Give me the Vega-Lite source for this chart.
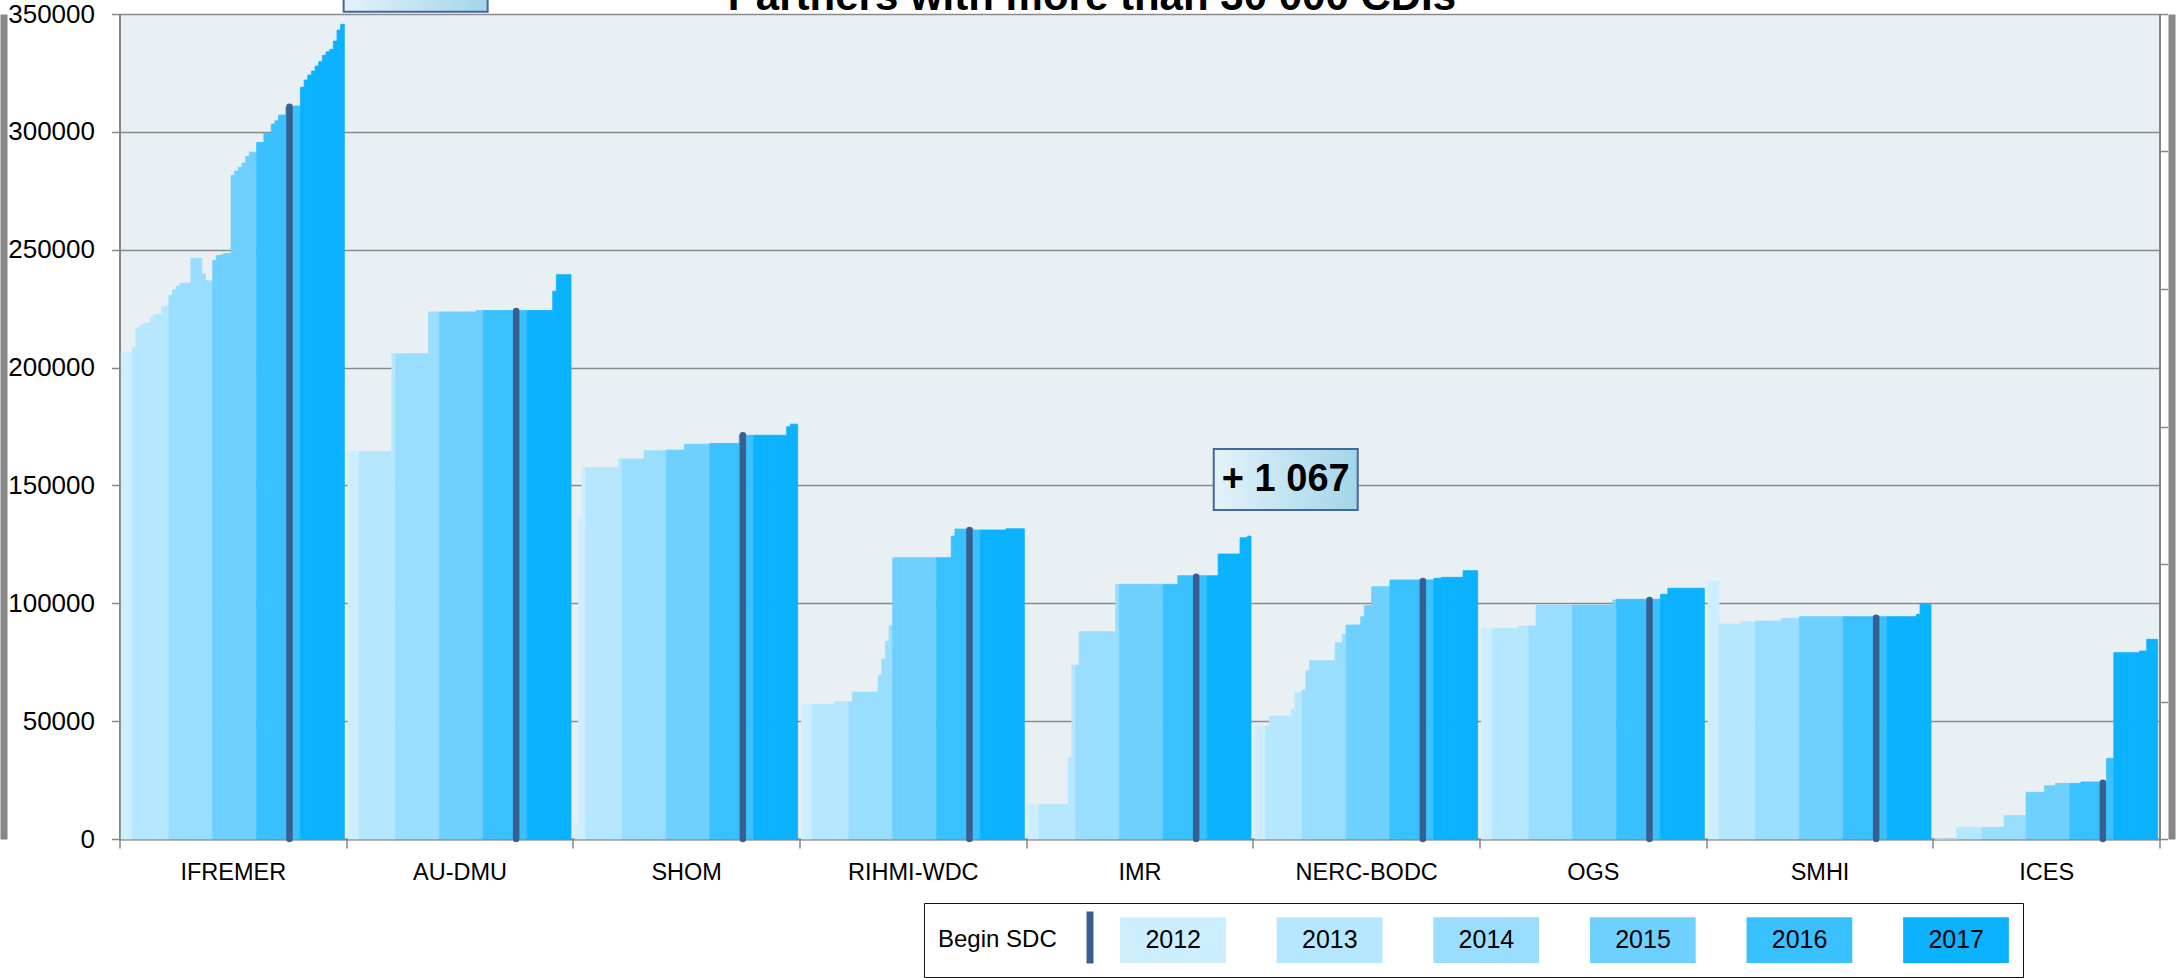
{
  "$schema": "https://vega.github.io/schema/vega-lite/v6.json",
  "width": 2040,
  "height": 825,
  "autosize": {"type": "none"},
  "padding": {"left": 119.5, "top": 14, "right": 19.5, "bottom": 139},
  "background": "#ffffff",
  "config": {
    "view": {"fill": "#E8F0F4", "stroke": null},
    "font": "Liberation Sans"
  },
  "datasets": {
    "bars": [
      {"p":"IFREMER","m":0,"yr":"2012","v":206500},{"p":"IFREMER","m":1,"yr":"2012","v":206500},{"p":"IFREMER","m":2,"yr":"2012","v":206500},
      {"p":"IFREMER","m":3,"yr":"2013","v":208700},{"p":"IFREMER","m":4,"yr":"2013","v":216800},{"p":"IFREMER","m":5,"yr":"2013","v":218000},{"p":"IFREMER","m":6,"yr":"2013","v":218600},{"p":"IFREMER","m":7,"yr":"2013","v":219000},{"p":"IFREMER","m":8,"yr":"2013","v":221400},{"p":"IFREMER","m":9,"yr":"2013","v":222500},{"p":"IFREMER","m":10,"yr":"2013","v":222500},{"p":"IFREMER","m":11,"yr":"2013","v":226000},{"p":"IFREMER","m":12,"yr":"2013","v":226000},
      {"p":"IFREMER","m":13,"yr":"2014","v":230600},{"p":"IFREMER","m":14,"yr":"2014","v":232900},{"p":"IFREMER","m":15,"yr":"2014","v":234500},{"p":"IFREMER","m":16,"yr":"2014","v":235800},{"p":"IFREMER","m":17,"yr":"2014","v":235800},{"p":"IFREMER","m":18,"yr":"2014","v":235800},{"p":"IFREMER","m":19,"yr":"2014","v":246400},{"p":"IFREMER","m":20,"yr":"2014","v":246400},{"p":"IFREMER","m":21,"yr":"2014","v":246400},{"p":"IFREMER","m":22,"yr":"2014","v":239800},{"p":"IFREMER","m":23,"yr":"2014","v":236800},{"p":"IFREMER","m":24,"yr":"2014","v":236800},
      {"p":"IFREMER","m":25,"yr":"2015","v":245500},{"p":"IFREMER","m":26,"yr":"2015","v":247500},{"p":"IFREMER","m":27,"yr":"2015","v":247800},{"p":"IFREMER","m":28,"yr":"2015","v":248400},{"p":"IFREMER","m":29,"yr":"2015","v":248400},{"p":"IFREMER","m":30,"yr":"2015","v":281600},{"p":"IFREMER","m":31,"yr":"2015","v":283400},{"p":"IFREMER","m":32,"yr":"2015","v":285000},{"p":"IFREMER","m":33,"yr":"2015","v":286800},{"p":"IFREMER","m":34,"yr":"2015","v":289600},{"p":"IFREMER","m":35,"yr":"2015","v":291400},{"p":"IFREMER","m":36,"yr":"2015","v":291400},
      {"p":"IFREMER","m":37,"yr":"2016","v":295500},{"p":"IFREMER","m":38,"yr":"2016","v":295500},{"p":"IFREMER","m":39,"yr":"2016","v":299400},{"p":"IFREMER","m":40,"yr":"2016","v":299400},{"p":"IFREMER","m":41,"yr":"2016","v":303300},{"p":"IFREMER","m":42,"yr":"2016","v":304700},{"p":"IFREMER","m":43,"yr":"2016","v":307100},{"p":"IFREMER","m":44,"yr":"2016","v":307100},{"p":"IFREMER","m":45,"yr":"2016","v":310600},{"p":"IFREMER","m":46,"yr":"2016","v":310600},{"p":"IFREMER","m":47,"yr":"2016","v":311000},{"p":"IFREMER","m":48,"yr":"2016","v":311000},
      {"p":"IFREMER","m":49,"yr":"2017","v":318900},{"p":"IFREMER","m":50,"yr":"2017","v":322000},{"p":"IFREMER","m":51,"yr":"2017","v":324100},{"p":"IFREMER","m":52,"yr":"2017","v":325800},{"p":"IFREMER","m":53,"yr":"2017","v":327900},{"p":"IFREMER","m":54,"yr":"2017","v":329800},{"p":"IFREMER","m":55,"yr":"2017","v":332500},{"p":"IFREMER","m":56,"yr":"2017","v":334000},{"p":"IFREMER","m":57,"yr":"2017","v":335000},{"p":"IFREMER","m":58,"yr":"2017","v":338500},{"p":"IFREMER","m":59,"yr":"2017","v":343200},{"p":"IFREMER","m":60,"yr":"2017","v":345600},

      {"p":"AU-DMU","m":0,"yr":"2012","v":164400},{"p":"AU-DMU","m":1,"yr":"2012","v":164400},{"p":"AU-DMU","m":2,"yr":"2012","v":164400},
      {"p":"AU-DMU","m":3,"yr":"2013","v":164400},{"p":"AU-DMU","m":4,"yr":"2013","v":164400},{"p":"AU-DMU","m":5,"yr":"2013","v":164400},{"p":"AU-DMU","m":6,"yr":"2013","v":164400},{"p":"AU-DMU","m":7,"yr":"2013","v":164400},{"p":"AU-DMU","m":8,"yr":"2013","v":164400},{"p":"AU-DMU","m":9,"yr":"2013","v":164400},{"p":"AU-DMU","m":10,"yr":"2013","v":164400},{"p":"AU-DMU","m":11,"yr":"2013","v":164400},{"p":"AU-DMU","m":12,"yr":"2013","v":205900},
      {"p":"AU-DMU","m":13,"yr":"2014","v":205900},{"p":"AU-DMU","m":14,"yr":"2014","v":205900},{"p":"AU-DMU","m":15,"yr":"2014","v":205900},{"p":"AU-DMU","m":16,"yr":"2014","v":205900},{"p":"AU-DMU","m":17,"yr":"2014","v":205900},{"p":"AU-DMU","m":18,"yr":"2014","v":205900},{"p":"AU-DMU","m":19,"yr":"2014","v":205900},{"p":"AU-DMU","m":20,"yr":"2014","v":205900},{"p":"AU-DMU","m":21,"yr":"2014","v":205900},{"p":"AU-DMU","m":22,"yr":"2014","v":223600},{"p":"AU-DMU","m":23,"yr":"2014","v":223600},{"p":"AU-DMU","m":24,"yr":"2014","v":223600},
      {"p":"AU-DMU","m":25,"yr":"2015","v":223600},{"p":"AU-DMU","m":26,"yr":"2015","v":223600},{"p":"AU-DMU","m":27,"yr":"2015","v":223600},{"p":"AU-DMU","m":28,"yr":"2015","v":223600},{"p":"AU-DMU","m":29,"yr":"2015","v":223600},{"p":"AU-DMU","m":30,"yr":"2015","v":223600},{"p":"AU-DMU","m":31,"yr":"2015","v":223600},{"p":"AU-DMU","m":32,"yr":"2015","v":223600},{"p":"AU-DMU","m":33,"yr":"2015","v":223600},{"p":"AU-DMU","m":34,"yr":"2015","v":223600},{"p":"AU-DMU","m":35,"yr":"2015","v":224200},{"p":"AU-DMU","m":36,"yr":"2015","v":224200},
      {"p":"AU-DMU","m":37,"yr":"2016","v":224200},{"p":"AU-DMU","m":38,"yr":"2016","v":224200},{"p":"AU-DMU","m":39,"yr":"2016","v":224200},{"p":"AU-DMU","m":40,"yr":"2016","v":224200},{"p":"AU-DMU","m":41,"yr":"2016","v":224200},{"p":"AU-DMU","m":42,"yr":"2016","v":224200},{"p":"AU-DMU","m":43,"yr":"2016","v":224200},{"p":"AU-DMU","m":44,"yr":"2016","v":224200},{"p":"AU-DMU","m":45,"yr":"2016","v":224200},{"p":"AU-DMU","m":46,"yr":"2016","v":224200},{"p":"AU-DMU","m":47,"yr":"2016","v":224200},{"p":"AU-DMU","m":48,"yr":"2016","v":224200},
      {"p":"AU-DMU","m":49,"yr":"2017","v":224200},{"p":"AU-DMU","m":50,"yr":"2017","v":224200},{"p":"AU-DMU","m":51,"yr":"2017","v":224200},{"p":"AU-DMU","m":52,"yr":"2017","v":224200},{"p":"AU-DMU","m":53,"yr":"2017","v":224200},{"p":"AU-DMU","m":54,"yr":"2017","v":224200},{"p":"AU-DMU","m":55,"yr":"2017","v":224200},{"p":"AU-DMU","m":56,"yr":"2017","v":232400},{"p":"AU-DMU","m":57,"yr":"2017","v":239400},{"p":"AU-DMU","m":58,"yr":"2017","v":239400},{"p":"AU-DMU","m":59,"yr":"2017","v":239400},{"p":"AU-DMU","m":60,"yr":"2017","v":239400},

      {"p":"SHOM","m":0,"yr":"2012","v":6800},{"p":"SHOM","m":1,"yr":"2012","v":136700},{"p":"SHOM","m":2,"yr":"2012","v":157600},
      {"p":"SHOM","m":3,"yr":"2013","v":157600},{"p":"SHOM","m":4,"yr":"2013","v":157600},{"p":"SHOM","m":5,"yr":"2013","v":157600},{"p":"SHOM","m":6,"yr":"2013","v":157600},{"p":"SHOM","m":7,"yr":"2013","v":157600},{"p":"SHOM","m":8,"yr":"2013","v":157600},{"p":"SHOM","m":9,"yr":"2013","v":157600},{"p":"SHOM","m":10,"yr":"2013","v":157600},{"p":"SHOM","m":11,"yr":"2013","v":157600},{"p":"SHOM","m":12,"yr":"2013","v":161200},
      {"p":"SHOM","m":13,"yr":"2014","v":161200},{"p":"SHOM","m":14,"yr":"2014","v":161200},{"p":"SHOM","m":15,"yr":"2014","v":161200},{"p":"SHOM","m":16,"yr":"2014","v":161200},{"p":"SHOM","m":17,"yr":"2014","v":161200},{"p":"SHOM","m":18,"yr":"2014","v":161200},{"p":"SHOM","m":19,"yr":"2014","v":164700},{"p":"SHOM","m":20,"yr":"2014","v":164700},{"p":"SHOM","m":21,"yr":"2014","v":164700},{"p":"SHOM","m":22,"yr":"2014","v":164700},{"p":"SHOM","m":23,"yr":"2014","v":164700},{"p":"SHOM","m":24,"yr":"2014","v":164700},
      {"p":"SHOM","m":25,"yr":"2015","v":165000},{"p":"SHOM","m":26,"yr":"2015","v":165000},{"p":"SHOM","m":27,"yr":"2015","v":165000},{"p":"SHOM","m":28,"yr":"2015","v":165000},{"p":"SHOM","m":29,"yr":"2015","v":165000},{"p":"SHOM","m":30,"yr":"2015","v":167500},{"p":"SHOM","m":31,"yr":"2015","v":167500},{"p":"SHOM","m":32,"yr":"2015","v":167500},{"p":"SHOM","m":33,"yr":"2015","v":167500},{"p":"SHOM","m":34,"yr":"2015","v":167500},{"p":"SHOM","m":35,"yr":"2015","v":167500},{"p":"SHOM","m":36,"yr":"2015","v":167500},
      {"p":"SHOM","m":37,"yr":"2016","v":167800},{"p":"SHOM","m":38,"yr":"2016","v":167800},{"p":"SHOM","m":39,"yr":"2016","v":167800},{"p":"SHOM","m":40,"yr":"2016","v":167800},{"p":"SHOM","m":41,"yr":"2016","v":167800},{"p":"SHOM","m":42,"yr":"2016","v":167800},{"p":"SHOM","m":43,"yr":"2016","v":167800},{"p":"SHOM","m":44,"yr":"2016","v":167800},{"p":"SHOM","m":45,"yr":"2016","v":171300},{"p":"SHOM","m":46,"yr":"2016","v":171300},{"p":"SHOM","m":47,"yr":"2016","v":171300},{"p":"SHOM","m":48,"yr":"2016","v":171300},
      {"p":"SHOM","m":49,"yr":"2017","v":171300},{"p":"SHOM","m":50,"yr":"2017","v":171300},{"p":"SHOM","m":51,"yr":"2017","v":171300},{"p":"SHOM","m":52,"yr":"2017","v":171300},{"p":"SHOM","m":53,"yr":"2017","v":171300},{"p":"SHOM","m":54,"yr":"2017","v":171300},{"p":"SHOM","m":55,"yr":"2017","v":171300},{"p":"SHOM","m":56,"yr":"2017","v":171300},{"p":"SHOM","m":57,"yr":"2017","v":171300},{"p":"SHOM","m":58,"yr":"2017","v":174900},{"p":"SHOM","m":59,"yr":"2017","v":176000},{"p":"SHOM","m":60,"yr":"2017","v":176000},

      {"p":"RIHMI-WDC","m":0,"yr":"2012","v":57150},{"p":"RIHMI-WDC","m":1,"yr":"2012","v":57150},{"p":"RIHMI-WDC","m":2,"yr":"2012","v":57150},
      {"p":"RIHMI-WDC","m":3,"yr":"2013","v":57150},{"p":"RIHMI-WDC","m":4,"yr":"2013","v":57150},{"p":"RIHMI-WDC","m":5,"yr":"2013","v":57150},{"p":"RIHMI-WDC","m":6,"yr":"2013","v":57150},{"p":"RIHMI-WDC","m":7,"yr":"2013","v":57150},{"p":"RIHMI-WDC","m":8,"yr":"2013","v":57150},{"p":"RIHMI-WDC","m":9,"yr":"2013","v":58250},{"p":"RIHMI-WDC","m":10,"yr":"2013","v":58250},{"p":"RIHMI-WDC","m":11,"yr":"2013","v":58250},{"p":"RIHMI-WDC","m":12,"yr":"2013","v":58250},
      {"p":"RIHMI-WDC","m":13,"yr":"2014","v":58250},{"p":"RIHMI-WDC","m":14,"yr":"2014","v":62360},{"p":"RIHMI-WDC","m":15,"yr":"2014","v":62360},{"p":"RIHMI-WDC","m":16,"yr":"2014","v":62360},{"p":"RIHMI-WDC","m":17,"yr":"2014","v":62360},{"p":"RIHMI-WDC","m":18,"yr":"2014","v":62360},{"p":"RIHMI-WDC","m":19,"yr":"2014","v":62360},{"p":"RIHMI-WDC","m":20,"yr":"2014","v":62360},{"p":"RIHMI-WDC","m":21,"yr":"2014","v":69450},{"p":"RIHMI-WDC","m":22,"yr":"2014","v":76360},{"p":"RIHMI-WDC","m":23,"yr":"2014","v":83870},{"p":"RIHMI-WDC","m":24,"yr":"2014","v":90500},
      {"p":"RIHMI-WDC","m":25,"yr":"2015","v":119350},{"p":"RIHMI-WDC","m":26,"yr":"2015","v":119350},{"p":"RIHMI-WDC","m":27,"yr":"2015","v":119350},{"p":"RIHMI-WDC","m":28,"yr":"2015","v":119350},{"p":"RIHMI-WDC","m":29,"yr":"2015","v":119350},{"p":"RIHMI-WDC","m":30,"yr":"2015","v":119350},{"p":"RIHMI-WDC","m":31,"yr":"2015","v":119350},{"p":"RIHMI-WDC","m":32,"yr":"2015","v":119350},{"p":"RIHMI-WDC","m":33,"yr":"2015","v":119350},{"p":"RIHMI-WDC","m":34,"yr":"2015","v":119350},{"p":"RIHMI-WDC","m":35,"yr":"2015","v":119350},{"p":"RIHMI-WDC","m":36,"yr":"2015","v":119350},
      {"p":"RIHMI-WDC","m":37,"yr":"2016","v":119350},{"p":"RIHMI-WDC","m":38,"yr":"2016","v":119350},{"p":"RIHMI-WDC","m":39,"yr":"2016","v":119350},{"p":"RIHMI-WDC","m":40,"yr":"2016","v":119350},{"p":"RIHMI-WDC","m":41,"yr":"2016","v":128500},{"p":"RIHMI-WDC","m":42,"yr":"2016","v":131500},{"p":"RIHMI-WDC","m":43,"yr":"2016","v":131500},{"p":"RIHMI-WDC","m":44,"yr":"2016","v":131500},{"p":"RIHMI-WDC","m":45,"yr":"2016","v":131500},{"p":"RIHMI-WDC","m":46,"yr":"2016","v":131500},{"p":"RIHMI-WDC","m":47,"yr":"2016","v":131100},{"p":"RIHMI-WDC","m":48,"yr":"2016","v":131100},
      {"p":"RIHMI-WDC","m":49,"yr":"2017","v":131100},{"p":"RIHMI-WDC","m":50,"yr":"2017","v":131100},{"p":"RIHMI-WDC","m":51,"yr":"2017","v":131100},{"p":"RIHMI-WDC","m":52,"yr":"2017","v":131100},{"p":"RIHMI-WDC","m":53,"yr":"2017","v":131100},{"p":"RIHMI-WDC","m":54,"yr":"2017","v":131100},{"p":"RIHMI-WDC","m":55,"yr":"2017","v":131100},{"p":"RIHMI-WDC","m":56,"yr":"2017","v":131600},{"p":"RIHMI-WDC","m":57,"yr":"2017","v":131600},{"p":"RIHMI-WDC","m":58,"yr":"2017","v":131600},{"p":"RIHMI-WDC","m":59,"yr":"2017","v":131600},{"p":"RIHMI-WDC","m":60,"yr":"2017","v":131600},

      {"p":"IMR","m":0,"yr":"2012","v":14720},{"p":"IMR","m":1,"yr":"2012","v":14720},{"p":"IMR","m":2,"yr":"2012","v":14720},
      {"p":"IMR","m":3,"yr":"2013","v":14720},{"p":"IMR","m":4,"yr":"2013","v":14720},{"p":"IMR","m":5,"yr":"2013","v":14720},{"p":"IMR","m":6,"yr":"2013","v":14720},{"p":"IMR","m":7,"yr":"2013","v":14720},{"p":"IMR","m":8,"yr":"2013","v":14720},{"p":"IMR","m":9,"yr":"2013","v":14720},{"p":"IMR","m":10,"yr":"2013","v":14720},{"p":"IMR","m":11,"yr":"2013","v":34500},{"p":"IMR","m":12,"yr":"2013","v":73800},
      {"p":"IMR","m":13,"yr":"2014","v":73800},{"p":"IMR","m":14,"yr":"2014","v":87950},{"p":"IMR","m":15,"yr":"2014","v":87950},{"p":"IMR","m":16,"yr":"2014","v":87950},{"p":"IMR","m":17,"yr":"2014","v":87950},{"p":"IMR","m":18,"yr":"2014","v":87950},{"p":"IMR","m":19,"yr":"2014","v":87950},{"p":"IMR","m":20,"yr":"2014","v":87950},{"p":"IMR","m":21,"yr":"2014","v":87950},{"p":"IMR","m":22,"yr":"2014","v":87950},{"p":"IMR","m":23,"yr":"2014","v":87950},{"p":"IMR","m":24,"yr":"2014","v":108050},
      {"p":"IMR","m":25,"yr":"2015","v":108050},{"p":"IMR","m":26,"yr":"2015","v":108050},{"p":"IMR","m":27,"yr":"2015","v":108050},{"p":"IMR","m":28,"yr":"2015","v":108050},{"p":"IMR","m":29,"yr":"2015","v":108050},{"p":"IMR","m":30,"yr":"2015","v":108050},{"p":"IMR","m":31,"yr":"2015","v":108050},{"p":"IMR","m":32,"yr":"2015","v":108050},{"p":"IMR","m":33,"yr":"2015","v":108050},{"p":"IMR","m":34,"yr":"2015","v":108050},{"p":"IMR","m":35,"yr":"2015","v":108050},{"p":"IMR","m":36,"yr":"2015","v":108050},
      {"p":"IMR","m":37,"yr":"2016","v":108050},{"p":"IMR","m":38,"yr":"2016","v":108050},{"p":"IMR","m":39,"yr":"2016","v":108050},{"p":"IMR","m":40,"yr":"2016","v":108050},{"p":"IMR","m":41,"yr":"2016","v":111700},{"p":"IMR","m":42,"yr":"2016","v":111700},{"p":"IMR","m":43,"yr":"2016","v":111700},{"p":"IMR","m":44,"yr":"2016","v":111700},{"p":"IMR","m":45,"yr":"2016","v":111700},{"p":"IMR","m":46,"yr":"2016","v":111700},{"p":"IMR","m":47,"yr":"2016","v":111700},{"p":"IMR","m":48,"yr":"2016","v":111700},
      {"p":"IMR","m":49,"yr":"2017","v":111700},{"p":"IMR","m":50,"yr":"2017","v":111700},{"p":"IMR","m":51,"yr":"2017","v":111700},{"p":"IMR","m":52,"yr":"2017","v":120900},{"p":"IMR","m":53,"yr":"2017","v":120900},{"p":"IMR","m":54,"yr":"2017","v":120900},{"p":"IMR","m":55,"yr":"2017","v":120900},{"p":"IMR","m":56,"yr":"2017","v":120900},{"p":"IMR","m":57,"yr":"2017","v":120900},{"p":"IMR","m":58,"yr":"2017","v":127800},{"p":"IMR","m":59,"yr":"2017","v":127800},{"p":"IMR","m":60,"yr":"2017","v":128500},

      {"p":"NERC-BODC","m":0,"yr":"2012","v":47940},{"p":"NERC-BODC","m":1,"yr":"2012","v":47940},{"p":"NERC-BODC","m":2,"yr":"2012","v":47940},
      {"p":"NERC-BODC","m":3,"yr":"2013","v":47940},{"p":"NERC-BODC","m":4,"yr":"2013","v":52180},{"p":"NERC-BODC","m":5,"yr":"2013","v":52180},{"p":"NERC-BODC","m":6,"yr":"2013","v":52180},{"p":"NERC-BODC","m":7,"yr":"2013","v":52180},{"p":"NERC-BODC","m":8,"yr":"2013","v":52180},{"p":"NERC-BODC","m":9,"yr":"2013","v":52180},{"p":"NERC-BODC","m":10,"yr":"2013","v":55000},{"p":"NERC-BODC","m":11,"yr":"2013","v":62070},{"p":"NERC-BODC","m":12,"yr":"2013","v":62070},
      {"p":"NERC-BODC","m":13,"yr":"2014","v":63200},{"p":"NERC-BODC","m":14,"yr":"2014","v":71400},{"p":"NERC-BODC","m":15,"yr":"2014","v":75640},{"p":"NERC-BODC","m":16,"yr":"2014","v":75640},{"p":"NERC-BODC","m":17,"yr":"2014","v":75640},{"p":"NERC-BODC","m":18,"yr":"2014","v":75640},{"p":"NERC-BODC","m":19,"yr":"2014","v":75640},{"p":"NERC-BODC","m":20,"yr":"2014","v":75640},{"p":"NERC-BODC","m":21,"yr":"2014","v":75640},{"p":"NERC-BODC","m":22,"yr":"2014","v":83280},{"p":"NERC-BODC","m":23,"yr":"2014","v":83280},{"p":"NERC-BODC","m":24,"yr":"2014","v":86840},
      {"p":"NERC-BODC","m":25,"yr":"2015","v":90800},{"p":"NERC-BODC","m":26,"yr":"2015","v":90800},{"p":"NERC-BODC","m":27,"yr":"2015","v":90800},{"p":"NERC-BODC","m":28,"yr":"2015","v":90800},{"p":"NERC-BODC","m":29,"yr":"2015","v":94300},{"p":"NERC-BODC","m":30,"yr":"2015","v":99000},{"p":"NERC-BODC","m":31,"yr":"2015","v":99000},{"p":"NERC-BODC","m":32,"yr":"2015","v":107050},{"p":"NERC-BODC","m":33,"yr":"2015","v":107050},{"p":"NERC-BODC","m":34,"yr":"2015","v":107050},{"p":"NERC-BODC","m":35,"yr":"2015","v":107050},{"p":"NERC-BODC","m":36,"yr":"2015","v":107050},
      {"p":"NERC-BODC","m":37,"yr":"2016","v":109900},{"p":"NERC-BODC","m":38,"yr":"2016","v":109900},{"p":"NERC-BODC","m":39,"yr":"2016","v":109900},{"p":"NERC-BODC","m":40,"yr":"2016","v":109900},{"p":"NERC-BODC","m":41,"yr":"2016","v":109900},{"p":"NERC-BODC","m":42,"yr":"2016","v":109900},{"p":"NERC-BODC","m":43,"yr":"2016","v":109900},{"p":"NERC-BODC","m":44,"yr":"2016","v":109900},{"p":"NERC-BODC","m":45,"yr":"2016","v":109900},{"p":"NERC-BODC","m":46,"yr":"2016","v":109900},{"p":"NERC-BODC","m":47,"yr":"2016","v":109900},{"p":"NERC-BODC","m":48,"yr":"2016","v":109900},
      {"p":"NERC-BODC","m":49,"yr":"2017","v":110600},{"p":"NERC-BODC","m":50,"yr":"2017","v":110600},{"p":"NERC-BODC","m":51,"yr":"2017","v":111000},{"p":"NERC-BODC","m":52,"yr":"2017","v":111000},{"p":"NERC-BODC","m":53,"yr":"2017","v":111000},{"p":"NERC-BODC","m":54,"yr":"2017","v":111000},{"p":"NERC-BODC","m":55,"yr":"2017","v":111000},{"p":"NERC-BODC","m":56,"yr":"2017","v":111000},{"p":"NERC-BODC","m":57,"yr":"2017","v":113840},{"p":"NERC-BODC","m":58,"yr":"2017","v":113840},{"p":"NERC-BODC","m":59,"yr":"2017","v":113840},{"p":"NERC-BODC","m":60,"yr":"2017","v":113840},

      {"p":"OGS","m":0,"yr":"2012","v":89380},{"p":"OGS","m":1,"yr":"2012","v":89380},{"p":"OGS","m":2,"yr":"2012","v":89380},
      {"p":"OGS","m":3,"yr":"2013","v":89380},{"p":"OGS","m":4,"yr":"2013","v":89380},{"p":"OGS","m":5,"yr":"2013","v":89380},{"p":"OGS","m":6,"yr":"2013","v":89380},{"p":"OGS","m":7,"yr":"2013","v":89380},{"p":"OGS","m":8,"yr":"2013","v":89380},{"p":"OGS","m":9,"yr":"2013","v":89380},{"p":"OGS","m":10,"yr":"2013","v":90370},{"p":"OGS","m":11,"yr":"2013","v":90370},{"p":"OGS","m":12,"yr":"2013","v":90370},
      {"p":"OGS","m":13,"yr":"2014","v":90370},{"p":"OGS","m":14,"yr":"2014","v":90370},{"p":"OGS","m":15,"yr":"2014","v":99270},{"p":"OGS","m":16,"yr":"2014","v":99270},{"p":"OGS","m":17,"yr":"2014","v":99270},{"p":"OGS","m":18,"yr":"2014","v":99270},{"p":"OGS","m":19,"yr":"2014","v":99270},{"p":"OGS","m":20,"yr":"2014","v":99270},{"p":"OGS","m":21,"yr":"2014","v":99270},{"p":"OGS","m":22,"yr":"2014","v":99270},{"p":"OGS","m":23,"yr":"2014","v":99270},{"p":"OGS","m":24,"yr":"2014","v":99270},
      {"p":"OGS","m":25,"yr":"2015","v":99270},{"p":"OGS","m":26,"yr":"2015","v":99270},{"p":"OGS","m":27,"yr":"2015","v":99270},{"p":"OGS","m":28,"yr":"2015","v":99270},{"p":"OGS","m":29,"yr":"2015","v":99270},{"p":"OGS","m":30,"yr":"2015","v":99270},{"p":"OGS","m":31,"yr":"2015","v":99270},{"p":"OGS","m":32,"yr":"2015","v":99270},{"p":"OGS","m":33,"yr":"2015","v":99270},{"p":"OGS","m":34,"yr":"2015","v":99270},{"p":"OGS","m":35,"yr":"2015","v":99270},{"p":"OGS","m":36,"yr":"2015","v":101400},
      {"p":"OGS","m":37,"yr":"2016","v":101700},{"p":"OGS","m":38,"yr":"2016","v":101700},{"p":"OGS","m":39,"yr":"2016","v":101700},{"p":"OGS","m":40,"yr":"2016","v":101700},{"p":"OGS","m":41,"yr":"2016","v":101700},{"p":"OGS","m":42,"yr":"2016","v":101700},{"p":"OGS","m":43,"yr":"2016","v":101700},{"p":"OGS","m":44,"yr":"2016","v":101700},{"p":"OGS","m":45,"yr":"2016","v":101700},{"p":"OGS","m":46,"yr":"2016","v":101700},{"p":"OGS","m":47,"yr":"2016","v":101700},{"p":"OGS","m":48,"yr":"2016","v":101700},
      {"p":"OGS","m":49,"yr":"2017","v":103800},{"p":"OGS","m":50,"yr":"2017","v":103800},{"p":"OGS","m":51,"yr":"2017","v":106350},{"p":"OGS","m":52,"yr":"2017","v":106350},{"p":"OGS","m":53,"yr":"2017","v":106350},{"p":"OGS","m":54,"yr":"2017","v":106350},{"p":"OGS","m":55,"yr":"2017","v":106350},{"p":"OGS","m":56,"yr":"2017","v":106350},{"p":"OGS","m":57,"yr":"2017","v":106350},{"p":"OGS","m":58,"yr":"2017","v":106350},{"p":"OGS","m":59,"yr":"2017","v":106350},{"p":"OGS","m":60,"yr":"2017","v":106350},

      {"p":"SMHI","m":0,"yr":"2012","v":109450},{"p":"SMHI","m":1,"yr":"2012","v":109450},{"p":"SMHI","m":2,"yr":"2012","v":109450},
      {"p":"SMHI","m":3,"yr":"2013","v":91210},{"p":"SMHI","m":4,"yr":"2013","v":91210},{"p":"SMHI","m":5,"yr":"2013","v":91210},{"p":"SMHI","m":6,"yr":"2013","v":91210},{"p":"SMHI","m":7,"yr":"2013","v":91210},{"p":"SMHI","m":8,"yr":"2013","v":91210},{"p":"SMHI","m":9,"yr":"2013","v":92200},{"p":"SMHI","m":10,"yr":"2013","v":92200},{"p":"SMHI","m":11,"yr":"2013","v":92200},{"p":"SMHI","m":12,"yr":"2013","v":92200},
      {"p":"SMHI","m":13,"yr":"2014","v":92480},{"p":"SMHI","m":14,"yr":"2014","v":92480},{"p":"SMHI","m":15,"yr":"2014","v":92480},{"p":"SMHI","m":16,"yr":"2014","v":92480},{"p":"SMHI","m":17,"yr":"2014","v":92480},{"p":"SMHI","m":18,"yr":"2014","v":92480},{"p":"SMHI","m":19,"yr":"2014","v":92480},{"p":"SMHI","m":20,"yr":"2014","v":93600},{"p":"SMHI","m":21,"yr":"2014","v":93600},{"p":"SMHI","m":22,"yr":"2014","v":93600},{"p":"SMHI","m":23,"yr":"2014","v":93600},{"p":"SMHI","m":24,"yr":"2014","v":93600},
      {"p":"SMHI","m":25,"yr":"2015","v":94320},{"p":"SMHI","m":26,"yr":"2015","v":94320},{"p":"SMHI","m":27,"yr":"2015","v":94320},{"p":"SMHI","m":28,"yr":"2015","v":94320},{"p":"SMHI","m":29,"yr":"2015","v":94320},{"p":"SMHI","m":30,"yr":"2015","v":94320},{"p":"SMHI","m":31,"yr":"2015","v":94320},{"p":"SMHI","m":32,"yr":"2015","v":94320},{"p":"SMHI","m":33,"yr":"2015","v":94320},{"p":"SMHI","m":34,"yr":"2015","v":94320},{"p":"SMHI","m":35,"yr":"2015","v":94320},{"p":"SMHI","m":36,"yr":"2015","v":94320},
      {"p":"SMHI","m":37,"yr":"2016","v":94320},{"p":"SMHI","m":38,"yr":"2016","v":94320},{"p":"SMHI","m":39,"yr":"2016","v":94320},{"p":"SMHI","m":40,"yr":"2016","v":94320},{"p":"SMHI","m":41,"yr":"2016","v":94320},{"p":"SMHI","m":42,"yr":"2016","v":94320},{"p":"SMHI","m":43,"yr":"2016","v":94320},{"p":"SMHI","m":44,"yr":"2016","v":94320},{"p":"SMHI","m":45,"yr":"2016","v":94320},{"p":"SMHI","m":46,"yr":"2016","v":94320},{"p":"SMHI","m":47,"yr":"2016","v":94320},{"p":"SMHI","m":48,"yr":"2016","v":94320},
      {"p":"SMHI","m":49,"yr":"2017","v":94320},{"p":"SMHI","m":50,"yr":"2017","v":94320},{"p":"SMHI","m":51,"yr":"2017","v":94320},{"p":"SMHI","m":52,"yr":"2017","v":94320},{"p":"SMHI","m":53,"yr":"2017","v":94320},{"p":"SMHI","m":54,"yr":"2017","v":94320},{"p":"SMHI","m":55,"yr":"2017","v":94320},{"p":"SMHI","m":56,"yr":"2017","v":94320},{"p":"SMHI","m":57,"yr":"2017","v":95300},{"p":"SMHI","m":58,"yr":"2017","v":99560},{"p":"SMHI","m":59,"yr":"2017","v":99560},{"p":"SMHI","m":60,"yr":"2017","v":99560},

      {"p":"ICES","m":0,"yr":"2012","v":0},{"p":"ICES","m":1,"yr":"2012","v":0},{"p":"ICES","m":2,"yr":"2012","v":0},
      {"p":"ICES","m":3,"yr":"2013","v":0},{"p":"ICES","m":4,"yr":"2013","v":0},{"p":"ICES","m":5,"yr":"2013","v":0},{"p":"ICES","m":6,"yr":"2013","v":4960},{"p":"ICES","m":7,"yr":"2013","v":4960},{"p":"ICES","m":8,"yr":"2013","v":4960},{"p":"ICES","m":9,"yr":"2013","v":4960},{"p":"ICES","m":10,"yr":"2013","v":4960},{"p":"ICES","m":11,"yr":"2013","v":4960},{"p":"ICES","m":12,"yr":"2013","v":4960},
      {"p":"ICES","m":13,"yr":"2014","v":4960},{"p":"ICES","m":14,"yr":"2014","v":4960},{"p":"ICES","m":15,"yr":"2014","v":4960},{"p":"ICES","m":16,"yr":"2014","v":4960},{"p":"ICES","m":17,"yr":"2014","v":4960},{"p":"ICES","m":18,"yr":"2014","v":4960},{"p":"ICES","m":19,"yr":"2014","v":9900},{"p":"ICES","m":20,"yr":"2014","v":9900},{"p":"ICES","m":21,"yr":"2014","v":9900},{"p":"ICES","m":22,"yr":"2014","v":9900},{"p":"ICES","m":23,"yr":"2014","v":9900},{"p":"ICES","m":24,"yr":"2014","v":9900},
      {"p":"ICES","m":25,"yr":"2015","v":19800},{"p":"ICES","m":26,"yr":"2015","v":19800},{"p":"ICES","m":27,"yr":"2015","v":19800},{"p":"ICES","m":28,"yr":"2015","v":19800},{"p":"ICES","m":29,"yr":"2015","v":19800},{"p":"ICES","m":30,"yr":"2015","v":22600},{"p":"ICES","m":31,"yr":"2015","v":22600},{"p":"ICES","m":32,"yr":"2015","v":22600},{"p":"ICES","m":33,"yr":"2015","v":23600},{"p":"ICES","m":34,"yr":"2015","v":23600},{"p":"ICES","m":35,"yr":"2015","v":23600},{"p":"ICES","m":36,"yr":"2015","v":23600},
      {"p":"ICES","m":37,"yr":"2016","v":23600},{"p":"ICES","m":38,"yr":"2016","v":23600},{"p":"ICES","m":39,"yr":"2016","v":23600},{"p":"ICES","m":40,"yr":"2016","v":24200},{"p":"ICES","m":41,"yr":"2016","v":24200},{"p":"ICES","m":42,"yr":"2016","v":24200},{"p":"ICES","m":43,"yr":"2016","v":24200},{"p":"ICES","m":44,"yr":"2016","v":24200},{"p":"ICES","m":45,"yr":"2016","v":24200},{"p":"ICES","m":46,"yr":"2016","v":24200},{"p":"ICES","m":47,"yr":"2016","v":34200},{"p":"ICES","m":48,"yr":"2016","v":34200},
      {"p":"ICES","m":49,"yr":"2017","v":79050},{"p":"ICES","m":50,"yr":"2017","v":79050},{"p":"ICES","m":51,"yr":"2017","v":79050},{"p":"ICES","m":52,"yr":"2017","v":79050},{"p":"ICES","m":53,"yr":"2017","v":79050},{"p":"ICES","m":54,"yr":"2017","v":79050},{"p":"ICES","m":55,"yr":"2017","v":79050},{"p":"ICES","m":56,"yr":"2017","v":79760},{"p":"ICES","m":57,"yr":"2017","v":79760},{"p":"ICES","m":58,"yr":"2017","v":84720},{"p":"ICES","m":59,"yr":"2017","v":84720},{"p":"ICES","m":60,"yr":"2017","v":84720}
    ],
    "sdc": [
      {"p":"IFREMER","m":45,"k":"Begin SDC","v":310600},
      {"p":"AU-DMU","m":45,"k":"Begin SDC","v":224000},
      {"p":"SHOM","m":45,"k":"Begin SDC","v":171300},
      {"p":"RIHMI-WDC","m":45,"k":"Begin SDC","v":131100},
      {"p":"IMR","m":45,"k":"Begin SDC","v":111300},
      {"p":"NERC-BODC","m":45,"k":"Begin SDC","v":109500},
      {"p":"OGS","m":45,"k":"Begin SDC","v":101400},
      {"p":"SMHI","m":45,"k":"Begin SDC","v":93900},
      {"p":"ICES","m":45,"k":"Begin SDC","v":23900}
    ],
    "ann": [
      {"p":"NERC-BODC","m":8,"lo":139600,"hi":165450,"mid":152500,"t":"+ 1 067"},
      {"p":"AU-DMU","m":18,"lo":351000,"hi":376700,"mid":363850,"t":""}
    ],
    "ttl": [
      {"p":"IMR","m":17,"v":351900,"t":"Partners with more than 30 000 CDIs"}
    ],
    "dummy": [{"d": 0}]
  },
  "layer": [
    {
      "layer": [
        {
          "data": {"name": "bars"},
          "mark": {"type": "bar", "strokeWidth": 0.8, "stroke": {"expr": "scale('color', datum.yr)"}},
          "encoding": {
            "x": {
              "field": "p", "type": "nominal",
              "scale": {"domain": ["IFREMER","AU-DMU","SHOM","RIHMI-WDC","IMR","NERC-BODC","OGS","SMHI","ICES"], "paddingInner": 0, "paddingOuter": 0},
              "axis": {"title": null, "tickBand": "extent", "labelAngle": 0, "labelFontSize": 23.5, "labelColor": "#000000", "labelFont": "Liberation Sans", "tickSize": 9, "tickColor": "#868686", "tickWidth": 1.5, "domainColor": "#868686", "domainWidth": 2, "labelPadding": 12, "grid": false}
            },
            "xOffset": {"field": "m", "type": "ordinal", "scale": {"paddingInner": 0, "paddingOuter": 0.5}},
            "y": {
              "field": "v", "type": "quantitative",
              "scale": {"domain": [0, 350000], "nice": false},
              "axis": {"title": null, "values": [0,50000,100000,150000,200000,250000,300000,350000], "format": "d", "labelFontSize": 26, "labelColor": "#000000", "labelFont": "Liberation Sans", "tickSize": 8, "tickColor": "#868686", "tickWidth": 1.5, "domainColor": "#868686", "domainWidth": 2, "grid": true, "gridColor": "#8A8A8A", "gridWidth": 1.5, "labelPadding": 17}
            },
            "color": {
              "field": "yr", "type": "nominal",
              "scale": {"domain": ["2012","2013","2014","2015","2016","2017"], "range": ["#CCEEFF","#B5E8FF","#99DEFF","#6ED0FF","#38C0FF","#0BB2FF"]},
              "legend": {
                "orient": "none", "legendX": 804.5, "legendY": 889, "direction": "horizontal", "columns": 6,
                "title": "\u00a0\u00a0Begin SDC", "titleOrient": "left", "titleFontSize": 24, "titleFontWeight": "normal", "titleColor": "#000000", "titleFont": "Liberation Sans", "titlePadding": 93, "titleAnchor": "middle", "titleBaseline": "middle",
                "symbolType": "M-2.32,-1H2.32V1H-2.32Z", "symbolSize": 2079, "symbolStrokeWidth": 0, "symbolOpacity": 1,
                "labelAlign": "center", "labelOffset": -22.8, "labelFontSize": 25, "labelColor": "#000000", "labelFont": "Liberation Sans",
                "columnPadding": 50.6, "padding": 14, "strokeColor": "#111111", "fillColor": "#ffffff",
                "encode": {"legend": {"update": {"strokeWidth": {"value": 1.5}}}}
              }
            }
          }
        },
        {
          "data": {"name": "ann"},
          "mark": {"type": "bar", "width": 144, "color": "#5a5a5a", "opacity": 0.28, "xOffset": 6, "yOffset": 6},
          "encoding": {
            "x": {"field": "p", "type": "nominal"},
            "xOffset": {"field": "m", "type": "ordinal"},
            "y": {"field": "hi", "type": "quantitative"},
            "y2": {"field": "lo"}
          }
        },
        {
          "data": {"name": "ann"},
          "mark": {"type": "bar", "width": 144, "stroke": "#47679A", "strokeWidth": 2,
                   "color": {"gradient": "linear", "x1": 0, "y1": 0, "x2": 1, "y2": 0, "stops": [{"offset": 0, "color": "#E4F2F9"}, {"offset": 1, "color": "#A2D5EA"}]}},
          "encoding": {
            "x": {"field": "p", "type": "nominal"},
            "xOffset": {"field": "m", "type": "ordinal"},
            "y": {"field": "hi", "type": "quantitative"},
            "y2": {"field": "lo"}
          }
        },
        {
          "data": {"name": "ann"},
          "mark": {"type": "text", "fontSize": 38, "fontWeight": "bold", "color": "#000000", "font": "Liberation Sans", "align": "center", "baseline": "middle"},
          "encoding": {
            "x": {"field": "p", "type": "nominal"},
            "xOffset": {"field": "m", "type": "ordinal"},
            "y": {"field": "mid", "type": "quantitative"},
            "text": {"field": "t"}
          }
        },
        {
          "data": {"name": "ttl"},
          "mark": {"type": "text", "fontSize": 42, "fontWeight": "bold", "color": "#000000", "font": "Liberation Sans", "align": "center", "baseline": "alphabetic"},
          "encoding": {
            "x": {"field": "p", "type": "nominal"},
            "xOffset": {"field": "m", "type": "ordinal"},
            "y": {"field": "v", "type": "quantitative"},
            "text": {"field": "t"}
          }
        }
      ]
    },
    {
      "data": {"name": "sdc"},
      "mark": {"type": "rule", "strokeWidth": 6.5, "strokeCap": "round"},
      "encoding": {
        "x": {"field": "p", "type": "nominal"},
        "xOffset": {"field": "m", "type": "ordinal", "scale": {"domain": [0,1,2,3,4,5,6,7,8,9,10,11,12,13,14,15,16,17,18,19,20,21,22,23,24,25,26,27,28,29,30,31,32,33,34,35,36,37,38,39,40,41,42,43,44,45,46,47,48,49,50,51,52,53,54,55,56,57,58,59,60], "paddingInner": 0, "paddingOuter": 0.5, "align": 1}},
        "y": {"field": "v", "type": "quantitative", "scale": {"domain": [0, 350000], "nice": false}, "axis": null},
        "y2": {"datum": 0},
        "stroke": {
          "field": "k", "type": "nominal",
          "scale": {"domain": ["Begin SDC"], "range": ["#375F8F"]},
          "legend": {"orient": "none", "legendX": 941, "legendY": 894, "title": null, "symbolType": "M0,-1V1", "symbolSize": 2704, "symbolStrokeWidth": 7, "labelExpr": "''", "padding": 0}
        }
      }
    },
    {
      "data": {"name": "dummy"},
      "mark": {"type": "point", "opacity": 0},
      "encoding": {
        "y": {"datum": 0, "type": "quantitative", "scale": {"domain": [0, 6], "nice": false},
              "axis": {"orient": "right", "title": null, "labels": false, "values": [0,1,2,3,4,5,6], "grid": false, "tickSize": 8, "tickColor": "#868686", "tickWidth": 1.5, "domainColor": "#868686", "domainWidth": 2}}
      }
    },
    {
      "data": {"name": "dummy"},
      "mark": {"type": "point", "opacity": 0},
      "encoding": {
        "y": {"datum": 0, "type": "quantitative", "scale": {"domain": [0, 1], "nice": false},
              "axis": {"orient": "left", "offset": 116, "title": null, "labels": false, "ticks": false, "grid": false, "domainColor": "#878787", "domainWidth": 7}}
      }
    },
    {
      "data": {"name": "dummy"},
      "mark": {"type": "point", "opacity": 0},
      "encoding": {
        "y": {"datum": 0, "type": "quantitative", "scale": {"domain": [0, 1], "nice": false},
              "axis": {"orient": "right", "offset": 12, "title": null, "labels": false, "ticks": false, "grid": false, "domainColor": "#878787", "domainWidth": 7}}
      }
    }
  ],
  "resolve": {"scale": {"y": "independent", "xOffset": "independent"}}
}
